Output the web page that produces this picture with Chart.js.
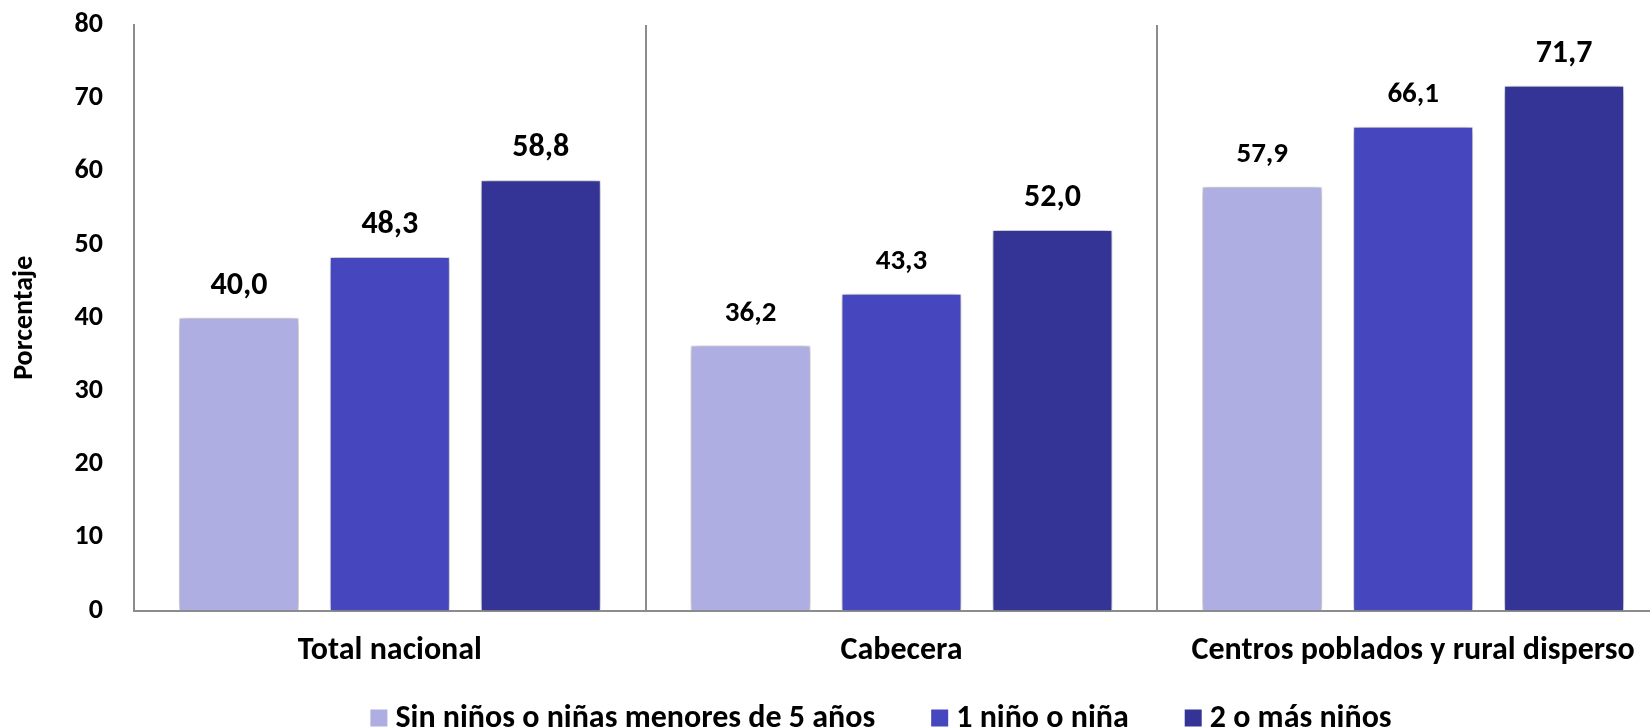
<!DOCTYPE html>
<html>
<head>
<meta charset="utf-8">
<script src="https://cdn.jsdelivr.net/npm/chart.js@4/dist/chart.umd.min.js"></script>
<style>
  html, body { margin: 0; padding: 0; background: #fff; overflow: hidden; }
  #wrap { width: 1762px; height: 728px; }
</style>
</head>
<body>
<div id="wrap"><canvas id="c" width="1762" height="728"></canvas></div>
<script>
// data
var categories = ['Total nacional', 'Cabecera', 'Centros poblados y rural disperso'];
var sinNinos   = [40.0, 36.2, 57.9];
var unNino     = [48.3, 43.3, 66.1];
var dosOMas    = [58.8, 52.0, 71.7];
var seriesNames = ['Sin niños o niñas menores de 5 años', '1 niño o niña', '2 o más niños'];
var yTicks = [0, 10, 20, 30, 40, 50, 60, 70, 80];

var FONT = 'Carlito, Lato, sans-serif';
var colors = ['#aeaee2', '#4646be', '#343496'];
var axisGrey = '#8c8c8c';

// soft drop shadow around the bars, like the Excel original
var barShadow = {
  id: 'barShadow',
  beforeDatasetsDraw: function (chart) {
    var ctx = chart.ctx;
    ctx.save();
    ctx.shadowColor = 'rgba(0,0,0,0.45)';
    ctx.shadowBlur = 10;
  },
  afterDatasetsDraw: function (chart) { chart.ctx.restore(); }
};

// value labels above each bar, comma decimal
var valueLabels = {
  id: 'valueLabels',
  afterDatasetsDraw: function (chart, args, opts) {
    var ctx = chart.ctx;
    ctx.save();
    ctx.fillStyle = '#000';
    ctx.textAlign = 'center';
    ctx.textBaseline = 'middle';
    chart.data.datasets.forEach(function (ds, di) {
      chart.getDatasetMeta(di).data.forEach(function (bar, i) {
        var small = opts.small.indexOf(di + ':' + i) >= 0;
        ctx.font = 'bold ' + (small ? 29 : 32) + 'px ' + FONT;
        ctx.fillText(ds.data[i].toFixed(1).replace('.', ','), bar.x, bar.y - 32);
      });
    });
    ctx.restore();
  }
};

// bottom legend drawn by hand so item spacing can match the original
var bottomLegend = {
  id: 'bottomLegend',
  afterDraw: function (chart, args, opts) {
    var ctx = chart.ctx, box = 17, gapBox = 8, gapItem = 56;
    ctx.save();
    ctx.font = 'bold ' + opts.size + 'px ' + FONT;
    ctx.textBaseline = 'middle';
    var widths = chart.data.datasets.map(function (ds) { return ctx.measureText(ds.label).width; });
    var total = widths.reduce(function (a, w) { return a + box + gapBox + w; }, 0) + gapItem * (widths.length - 1);
    var x = opts.centerX - total / 2;
    chart.data.datasets.forEach(function (ds, i) {
      ctx.fillStyle = ds.backgroundColor;
      ctx.fillRect(x, opts.y - box / 2, box, box);
      x += box + gapBox;
      ctx.fillStyle = '#000';
      ctx.fillText(ds.label, x, opts.y + 1);
      x += widths[i] + gapItem;
    });
    ctx.restore();
  }
};

new Chart(document.getElementById('c'), {
  type: 'bar',
  data: {
    labels: categories,
    datasets: [sinNinos, unNino, dosOMas].map(function (d, k) {
      return {
        label: seriesNames[k],
        data: d,
        backgroundColor: colors[k],
        borderColor: 'rgba(255,255,255,0.55)',
        borderWidth: 1,
        categoryPercentage: 0.885,
        barPercentage: 0.795
      };
    })
  },
  options: {
    responsive: false,
    animation: false,
    layout: { padding: { top: 25, right: 93, left: 0, bottom: 37 } },
    plugins: {
      tooltip: { enabled: false },
      legend: { display: false },
      valueLabels: { small: ['0:1', '1:1', '0:2', '1:2'] },
      bottomLegend: { size: 32, centerX: 881, y: 718 }
    },
    scales: {
      x: {
        grid: { display: true, offset: true, color: axisGrey, lineWidth: 2, drawTicks: false },
        border: { color: axisGrey, width: 2 },
        ticks: { color: '#000', padding: 21, font: { family: FONT, size: 32, weight: 'bold' } }
      },
      y: {
        min: 0,
        max: 80,
        afterBuildTicks: function (s) { s.ticks = yTicks.map(function (v) { return { value: v }; }); },
        afterFit: function (s) { s.width = 134; s.paddingTop = 0; s.paddingBottom = 0; },
        grid: { display: false, drawTicks: false },
        border: { color: axisGrey, width: 2 },
        ticks: { color: '#000', padding: 31, font: { family: FONT, size: 28, weight: 'bold' } },
        title: { display: true, text: 'Porcentaje', color: '#000', padding: { top: 8 }, font: { family: FONT, size: 28, weight: 'bold' } }
      }
    }
  },
  plugins: [barShadow, valueLabels, bottomLegend]
});
</script>
</body>
</html>
